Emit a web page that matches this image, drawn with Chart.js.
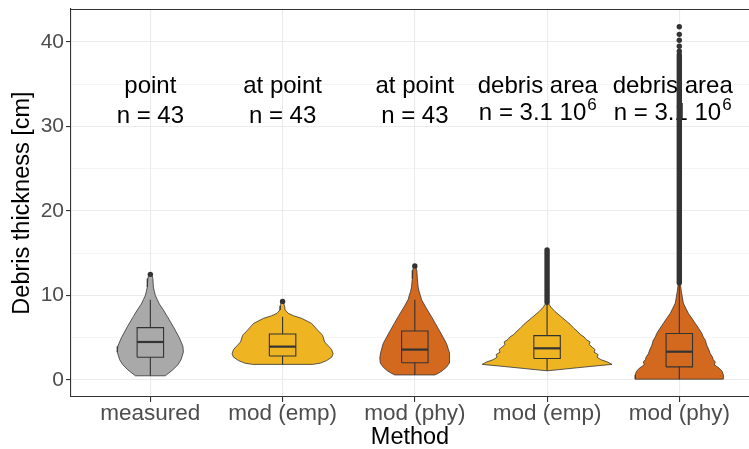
<!DOCTYPE html>
<html>
<head>
<meta charset="utf-8">
<script src="https://cdn.jsdelivr.net/npm/chart.js@4.4.1/dist/chart.umd.min.js"></script>
<style>
  html, body { margin: 0; padding: 0; background: #ffffff; }
</style>
</head>
<body>
<canvas id="violinChart" width="749" height="449"></canvas>
<script>
// --------------------------
// Data
// --------------------------
const categories = ['measured', 'mod (emp)', 'mod (phy)', 'mod (emp)', 'mod (phy)'];
const labelTop = ['point', 'at point', 'at point', 'debris area', 'debris area'];
const labelCount = ['n = 43', 'n = 43', 'n = 43', 'n = 3.1 10', 'n = 3.1 10'];
const labelExp = ['', '', '', '6', '6'];
const labelX = [1, 2, 3, 3.93, 4.95];
const textRows = [34.0, 30.4];
const fillColors = ['#A9A9A9', '#EEB422', '#D2691E', '#EEB422', '#D2691E'];

// violin outlines: thickness levels (cm), top to bottom, and half widths (x units)
const measuredLevels = [12.5, 12.0, 11.0, 10.5, 10.0, 9.5, 9.0, 8.3, 7.5, 6.3, 5.0, 4.0, 3.3, 2.4, 1.8, 1.2, 0.5];
const measuredWidths = [0.011, 0.019, 0.023, 0.030, 0.038, 0.053, 0.068, 0.098, 0.129, 0.174, 0.219, 0.246, 0.250, 0.232, 0.208, 0.170, 0.113];
const empPointLevels = [9.3, 8.8, 8.3, 7.9, 7.6, 7.3, 6.7, 5.9, 5.3, 4.5, 4.0, 3.6, 3.1, 2.7, 2.3, 2.0, 1.85];
const empPointWidths = [0.011, 0.015, 0.019, 0.042, 0.083, 0.144, 0.219, 0.265, 0.302, 0.318, 0.348, 0.371, 0.382, 0.371, 0.333, 0.287, 0.227];
const phyPointLevels = [13.5, 13.0, 12.0, 11.0, 10.5, 10.0, 9.5, 8.5, 7.5, 6.7, 5.9, 5.0, 4.3, 3.2, 2.6, 2.0, 1.5, 1.1, 0.8, 0.6];
const phyPointWidths = [0.011, 0.015, 0.019, 0.025, 0.032, 0.042, 0.051, 0.087, 0.126, 0.155, 0.184, 0.216, 0.240, 0.259, 0.265, 0.261, 0.238, 0.208, 0.178, 0.151];
const empAreaLevels = [9.1, 8.6, 8.1, 7.6, 7.1, 6.6, 6.1, 5.7, 5.4, 5.1, 4.8, 4.5, 4.2, 3.9, 3.6, 3.3, 3.0, 2.7, 2.4, 2.15, 1.85, 1.6, 1.35, 1.1];
const empAreaWidths = [0.008, 0.030, 0.060, 0.098, 0.136, 0.174, 0.204, 0.234, 0.250, 0.280, 0.295, 0.325, 0.318, 0.340, 0.363, 0.355, 0.386, 0.378, 0.408, 0.454, 0.491, 0.325, 0.166, 0.008];
const phyAreaLevels = [11.45, 10.5, 9.8, 9.1, 8.5, 7.9, 7.3, 6.7, 6.1, 5.5, 5.1, 4.7, 4.1, 3.55, 3.1, 2.75, 2.4, 2.15, 1.8, 1.4, 1.0, 0.6, 0.1];
const phyAreaWidths = [0.008, 0.015, 0.023, 0.030, 0.049, 0.068, 0.095, 0.121, 0.147, 0.171, 0.181, 0.197, 0.208, 0.224, 0.234, 0.250, 0.257, 0.272, 0.265, 0.302, 0.325, 0.333, 0.333];

const violinLevels = [measuredLevels, empPointLevels, phyPointLevels, empAreaLevels, phyAreaLevels];
const violinWidths = [measuredWidths, empPointWidths, phyPointWidths, empAreaWidths, phyAreaWidths];

// boxplot statistics
const whiskerLow = [0.5, 1.85, 0.6, 1.1, 0.1];
const q1 = [2.7, 2.85, 2.05, 2.55, 1.55];
const median = [4.5, 3.95, 3.6, 3.75, 3.35];
const q3 = [6.2, 5.45, 5.8, 5.25, 5.5];
const whiskerHigh = [9.5, 7.5, 9.5, 9.1, 11.4];
const outliers = [[12.5], [9.3], [13.5], [], [38.9, 39.5, 40.2, 40.9, 41.8]];
const outlierSpans = [null, null, null, [9.2, 15.4], [11.5, 38.5]];

const yTicks = [0, 5, 10, 15, 20, 25, 30, 35, 40];
const boxHalf = 0.1;

const FONT = '"Liberation Sans", Arial, Helvetica, sans-serif';
const INK = '#333333';

// --------------------------
// Datasets
// --------------------------
const datasets = [];

categories.forEach((cat, i) => {
    const c = i + 1;
    const lv = violinLevels[i];
    const hw = violinWidths[i];
    const left = lv.map((v, k) => ({ x: c - hw[k], y: v }));
    const right = lv.map((v, k) => ({ x: c + hw[k], y: v })).reverse();

    datasets.push({
        label: 'violin ' + c,
        data: [...left, ...right, left[0]],
        showLine: true,
        fill: 'shape',
        backgroundColor: fillColors[i],
        borderColor: INK,
        borderWidth: 0.8,
        pointRadius: 0,
        tension: 0,
        order: 10
    });

    // box
    datasets.push({
        label: 'box ' + c,
        data: [
            { x: c - boxHalf, y: q1[i] }, { x: c - boxHalf, y: q3[i] },
            { x: c + boxHalf, y: q3[i] }, { x: c + boxHalf, y: q1[i] },
            { x: c - boxHalf, y: q1[i] }
        ],
        showLine: true,
        borderColor: INK,
        borderWidth: 1.1,
        pointRadius: 0,
        order: 5
    });

    // median
    datasets.push({
        label: 'median ' + c,
        data: [{ x: c - boxHalf, y: median[i] }, { x: c + boxHalf, y: median[i] }],
        showLine: true,
        borderColor: INK,
        borderWidth: 2.2,
        pointRadius: 0,
        order: 5
    });

    // whiskers
    datasets.push({
        label: 'whisker hi ' + c,
        data: [{ x: c, y: q3[i] }, { x: c, y: whiskerHigh[i] }],
        showLine: true,
        borderColor: INK,
        borderWidth: 1.1,
        pointRadius: 0,
        order: 5
    });
    datasets.push({
        label: 'whisker lo ' + c,
        data: [{ x: c, y: q1[i] }, { x: c, y: whiskerLow[i] }],
        showLine: true,
        borderColor: INK,
        borderWidth: 1.1,
        pointRadius: 0,
        order: 5
    });

    // outliers
    if (outlierSpans[i]) {
        datasets.push({
            label: 'outlier run ' + c,
            data: [{ x: c, y: outlierSpans[i][0] }, { x: c, y: outlierSpans[i][1] }],
            showLine: true,
            borderColor: INK,
            borderWidth: 5.4,
            borderCapStyle: 'round',
            pointRadius: 0,
            order: 1
        });
    }
    if (outliers[i].length) {
        datasets.push({
            label: 'outliers ' + c,
            data: outliers[i].map(v => ({ x: c, y: v })),
            showLine: false,
            pointRadius: 2.7,
            pointBackgroundColor: INK,
            pointBorderWidth: 0,
            order: 1
        });
    }
});

// --------------------------
// Text labels + panel top border
// --------------------------
const panelPlugin = {
    id: 'panelText',
    beforeDatasetsDraw(chart) {
        const { ctx, scales: { x, y } } = chart;
        ctx.save();
        ctx.fillStyle = '#000000';
        ctx.textBaseline = 'alphabetic';
        labelTop.forEach((t, i) => {
            const px = x.getPixelForValue(labelX[i]);
            ctx.font = '24px ' + FONT;
            ctx.textAlign = 'center';
            ctx.fillText(t, px, y.getPixelForValue(textRows[0]));

            const main = labelCount[i];
            const sup = labelExp[i];
            let py = y.getPixelForValue(textRows[1]);
            const wMain = ctx.measureText(main).width;
            ctx.font = '17px ' + FONT;
            const wSup = sup ? ctx.measureText(sup).width + 1 : 0;
            if (sup) py -= 3;
            const start = px - (wMain + wSup) / 2;
            ctx.textAlign = 'left';
            ctx.font = '24px ' + FONT;
            ctx.fillText(main, start, py);
            if (sup) {
                ctx.font = '17px ' + FONT;
                ctx.fillText(sup, start + wMain + 1, py - 10);
            }
        });
        ctx.restore();
    },
    afterDraw(chart) {
        const { ctx, chartArea } = chart;
        ctx.save();
        ctx.strokeStyle = INK;
        ctx.lineWidth = 1.1;
        ctx.beginPath();
        ctx.moveTo(chartArea.left, chartArea.top + 0.5);
        ctx.lineTo(chartArea.right, chartArea.top + 0.5);
        ctx.stroke();
        ctx.restore();
    }
};

// --------------------------
// Chart
// --------------------------
const chartCtx = document.getElementById('violinChart');

new Chart(chartCtx, {
    type: 'scatter',
    data: { datasets },
    options: {
        responsive: false,
        animation: false,
        devicePixelRatio: 1,
        layout: { autoPadding: false, padding: { top: 9, left: 0, right: 0, bottom: 0 } },
        plugins: {
            legend: { display: false },
            tooltip: { enabled: false }
        },
        scales: {
            x: {
                type: 'linear',
                min: 0.4,
                max: 5.527,
                afterBuildTicks: s => { s.ticks = categories.map((_, i) => ({ value: i + 1 })); },
                afterFit: s => {
                    s.height = 52;
                    s.paddingLeft = 0;
                    s.paddingRight = 0;
                },
                ticks: {
                    callback: v => categories[Math.round(v) - 1] || '',
                    color: '#4D4D4D',
                    font: { family: FONT, size: 22.5 },
                    padding: -2,
                    maxRotation: 0,
                    autoSkip: false
                },
                grid: { color: '#EBEBEB', lineWidth: 1.1, tickLength: 5, tickColor: INK },
                border: { color: INK, width: 1.1 },
                title: {
                    display: true,
                    text: 'Method',
                    color: '#000000',
                    font: { family: FONT, size: 23.5, lineHeight: 1.0 },
                    padding: { top: 0, bottom: 0 }
                }
            },
            y: {
                type: 'linear',
                min: -2.01,
                max: 43.9,
                afterBuildTicks: s => { s.ticks = yTicks.map(v => ({ value: v })); },
                afterFit: s => {
                    s.width = 71;
                    s.paddingTop = 0;
                    s.paddingBottom = 0;
                },
                ticks: {
                    callback: v => (v % 10 === 0 ? String(v) : ''),
                    color: '#4D4D4D',
                    font: { family: FONT, size: 21 },
                    padding: 2
                },
                grid: {
                    color: '#EBEBEB',
                    lineWidth: c => (c.tick && c.tick.value % 10 === 0 ? 1.1 : 0.55),
                    tickLength: 5,
                    tickColor: c => (c.tick && c.tick.value % 10 === 0 ? INK : 'rgba(0,0,0,0)')
                },
                border: { color: INK, width: 1.1 },
                title: {
                    display: true,
                    text: 'Debris thickness [cm]',
                    color: '#000000',
                    font: { family: FONT, size: 23.5, lineHeight: 1.0 },
                    padding: { top: 11, bottom: 0 }
                }
            }
        }
    },
    plugins: [panelPlugin]
});
</script>
</body>
</html>
